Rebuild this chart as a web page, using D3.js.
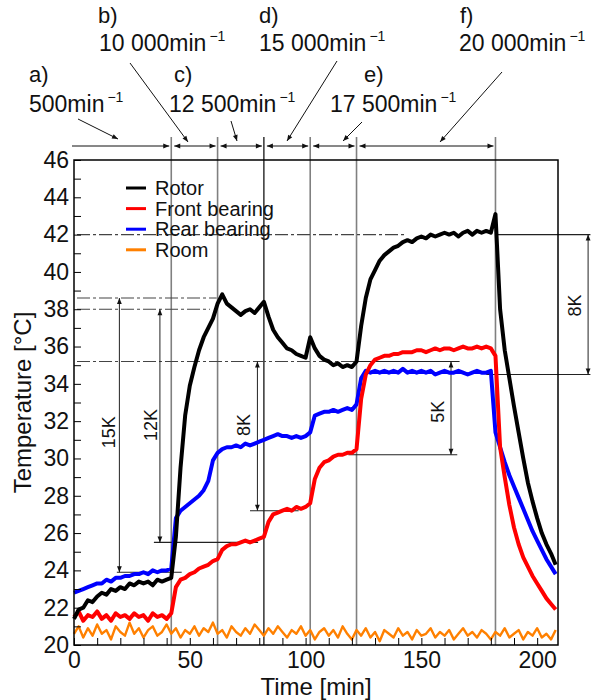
<!DOCTYPE html>
<html>
<head>
<meta charset="utf-8">
<script src="https://cdn.jsdelivr.net/npm/d3@7"></script>
<style>
  body { margin: 0; background: #fff; }
  text { font-family: "Liberation Sans", Arial, sans-serif; fill: #111; }
</style>
</head>
<body>
<div id="container"></div>
<script>
/* DATA */
// time in minutes, every 2 min
const time = [
  0, 2, 4, 6, 8, 10, 12, 14, 16, 18,
  20, 22, 24, 26, 28, 30, 32, 34, 36, 38,
  40, 42, 44, 46, 48, 50, 52, 54, 56, 58,
  60, 62, 64, 66, 68, 70, 72, 74, 76, 78,
  80, 82, 84, 86, 88, 90, 92, 94, 96, 98,
  100, 102, 104, 106, 108, 110, 112, 114, 116, 118,
  120, 122, 124, 126, 128, 130, 132, 134, 136, 138,
  140, 142, 144, 146, 148, 150, 152, 154, 156, 158,
  160, 162, 164, 166, 168, 170, 172, 174, 176, 178,
  180, 182, 184, 186, 188, 190, 192, 194, 196, 198,
  200, 202, 204, 206, 208
];
const rotor = [
  21.4, 21.9, 22.0, 22.4, 22.3, 22.6, 22.8, 22.7, 23.0, 22.9,
  23.1, 23.0, 23.3, 23.2, 23.4, 23.3, 23.4, 23.2, 23.5, 23.4,
  23.5, 23.6, 25.8, 29.5, 32.3, 33.9, 34.9, 35.8, 36.5, 37.0,
  37.5, 38.3, 38.8, 38.3, 38.1, 37.9, 37.7, 37.9, 38.0, 37.8,
  38.1, 38.4, 37.6, 36.9, 36.5, 36.2, 35.9, 35.8, 35.6, 35.5,
  35.4, 36.5, 35.9, 35.5, 35.3, 35.2, 35.0, 35.1, 34.9, 35.0,
  34.9, 35.2, 37.1, 38.6, 39.6, 40.1, 40.6, 40.9, 41.1, 41.3,
  41.4, 41.6, 41.7, 41.6, 41.8, 41.9, 41.8, 42.0, 41.9, 42.0,
  42.1, 42.0, 42.1, 41.9, 42.1, 42.2, 42.0, 42.2, 42.1, 42.2,
  42.1, 43.1, 38.0, 35.8, 34.3, 32.8, 31.4, 30.0, 28.7, 27.7,
  26.8, 26.0, 25.4, 24.9, 24.3
];
const frontBearing = [
  21.5, 21.8, 21.3, 21.6, 21.5, 21.8, 21.4, 21.6, 21.3, 21.7,
  21.5, 21.6, 21.4, 21.7, 21.5, 21.6, 21.3, 21.7, 21.5, 21.6,
  21.4, 21.7, 23.1, 23.5, 23.6, 23.8, 23.9, 24.1, 24.2, 24.3,
  24.5, 24.6, 25.1, 25.3, 25.4, 25.4, 25.5, 25.6, 25.5, 25.6,
  25.7, 25.8, 26.6, 27.0, 27.1, 27.2, 27.3, 27.2, 27.4, 27.3,
  27.4, 27.6, 28.9, 29.5, 29.8, 29.9, 30.1, 30.2, 30.2, 30.3,
  30.3, 30.5, 33.2, 34.5, 35.0, 35.3, 35.4, 35.5, 35.5, 35.6,
  35.6, 35.7, 35.7, 35.7, 35.8, 35.8, 35.7, 35.8, 35.9, 35.8,
  35.9, 35.9, 35.8, 35.9, 36.0, 35.9, 35.9, 36.0, 35.9, 36.0,
  35.9, 35.5, 30.6, 29.0, 27.5, 26.3, 25.4, 24.7, 24.2, 23.7,
  23.3, 22.9, 22.5, 22.2, 21.9
];
const rearBearing = [
  22.8, 22.9, 23.0, 23.1, 23.2, 23.3, 23.3, 23.5, 23.4, 23.6,
  23.6, 23.7, 23.7, 23.8, 23.8, 23.9, 23.8, 24.0, 23.9, 24.0,
  24.0, 24.1, 26.8, 27.2, 27.4, 27.6, 27.8, 28.0, 28.3, 28.8,
  29.9, 30.3, 30.5, 30.6, 30.6, 30.7, 30.6, 30.8, 30.7, 30.8,
  30.9, 31.0, 31.1, 31.2, 31.3, 31.2, 31.2, 31.1, 31.2, 31.1,
  31.2, 31.4, 32.3, 32.4, 32.5, 32.5, 32.6, 32.5, 32.6, 32.7,
  32.6, 32.9, 34.3, 34.7, 34.6, 34.7, 34.6, 34.7, 34.6, 34.7,
  34.6, 34.8, 34.6, 34.7, 34.6, 34.7, 34.6, 34.7, 34.5, 34.6,
  34.7, 34.6, 34.6, 34.7, 34.6, 34.5, 34.6, 34.7, 34.6, 34.6,
  34.7, 31.4, 30.6, 29.8, 29.1, 28.5, 27.9, 27.3, 26.7, 26.1,
  25.6, 25.1, 24.6, 24.2, 23.8
];
const room = [
  20.6, 21.0, 20.4, 20.9, 20.5, 21.1, 20.6, 20.8, 20.3, 21.0,
  20.7, 20.5, 21.2, 20.6, 20.9, 20.4, 20.8, 21.0, 20.5, 20.7,
  21.1, 20.6, 20.9, 20.4, 20.8, 20.6, 21.0, 20.5, 20.9, 20.7,
  21.2, 20.6, 20.8, 20.4, 21.0, 20.7, 20.5, 20.9, 20.6, 21.1,
  20.8, 20.5, 20.9, 20.6, 21.0, 20.7, 20.4, 20.8, 20.6, 21.0,
  20.5, 20.8, 20.3, 20.7, 20.9, 20.5, 20.8, 20.4, 21.0, 20.6,
  20.3, 20.8, 20.5, 20.9, 20.4, 20.7, 20.2, 20.8, 20.6, 20.4,
  20.9, 20.5, 20.7, 20.3, 20.8, 20.5, 20.6, 20.9, 20.4, 20.7,
  20.5, 20.8, 20.3, 20.6, 20.9, 20.5, 20.7, 20.4, 20.8, 20.6,
  20.3, 20.7, 20.5, 20.9, 20.4, 20.6, 20.8, 20.3, 20.7, 20.5,
  20.9, 20.4, 20.6, 20.3, 20.8
];
const seriesNames = ["Rotor", "Front bearing", "Rear bearing", "Room"];

// speed steps: boundaries (min), letters, speeds
const stepBounds = [0, 42, 62, 82, 102, 122, 182];
const stepLetters = ["a)", "b)", "c)", "d)", "e)", "f)"];
const stepSpeeds = ["500", "10 000", "12 500", "15 000", "17 500", "20 000"];

// tick labels
const xTickLabels = [0, 50, 100, 150, 200];
const yTickLabels = [20, 22, 24, 26, 28, 30, 32, 34, 36, 38, 40, 42, 44, 46];

// reference temperatures (dash-dot guides) and temperature differences
const guideTemps = [42, 38.6, 38.0, 35.2];
const guideEnds = [143, 61.6, 58.7, 122];
const deltaLabels = ["15K", "12K", "8K", "5K", "8K"];
const deltaTimes = [19.6, 37.1, 79.2, 162.8, 222];
const deltaTop = [38.6, 38.0, 35.2, 35.2, 42];
const deltaBottom = [23.9, 25.5, 27.2, 30.2, 34.5];
const deltaLabelTimes = [17.7, 35.8, 76.0, 159.8, 218.9];
const deltaLabelTemps = [31.4, 31.8, 31.8, 32.5, 38.2];

/* SCALES */
const width = 592, height = 700;
const x = d3.scaleLinear().domain([0, 209]).range([74, 558]);
const y = d3.scaleLinear().domain([20, 46]).range([645, 160]);

const svg = d3.select("#container").append("svg")
  .attr("width", width)
  .attr("height", height);

const defs = svg.append("defs");
defs.append("marker")
  .attr("id", "arr")
  .attr("viewBox", "0 0 10 10")
  .attr("refX", 10).attr("refY", 5)
  .attr("markerWidth", 8).attr("markerHeight", 6)
  .attr("markerUnits", "userSpaceOnUse")
  .attr("orient", "auto-start-reverse")
  .append("path").attr("d", "M0,1 L10,5 L0,9 Z").attr("fill", "#111");

/* GUIDES (behind the curves) */
const guides = svg.append("g");

// step boundaries
guides.selectAll("line.bound")
  .data(stepBounds.slice(1))
  .join("line")
  .attr("class", "bound")
  .attr("x1", d => x(d)).attr("x2", d => x(d))
  .attr("y1", y(46) - 23).attr("y2", y(20))
  .attr("stroke", d => d === 82 ? "#000" : "#808080")
  .attr("stroke-width", d => d === 82 ? 1.2 : 1.6);

// dash-dot reference levels
guides.selectAll("line.guide")
  .data(guideTemps)
  .join("line")
  .attr("class", "guide")
  .attr("x1", x(1.3)).attr("x2", (d, i) => x(guideEnds[i]))
  .attr("y1", d => y(d)).attr("y2", d => y(d))
  .attr("stroke", "#444").attr("stroke-width", 1.1)
  .attr("stroke-dasharray", "13,3,3,3");

// solid reference ticks for the differences
const solidRefs = [
  [42, 182, 223], [34.5, 178, 223], [35.2, 122, 166.5], [30.2, 118.5, 165.5],
  [27.2, 76, 97], [25.5, 34.5, 79.5], [23.9, 18.5, 46.5]
];
guides.selectAll("line.ref")
  .data(solidRefs)
  .join("line")
  .attr("class", "ref")
  .attr("x1", d => x(d[1])).attr("x2", d => x(d[2]))
  .attr("y1", d => y(d[0])).attr("y2", d => y(d[0]))
  .attr("stroke", "#222").attr("stroke-width", 1.1);

// difference arrows
guides.selectAll("line.delta")
  .data(deltaLabels)
  .join("line")
  .attr("class", "delta")
  .attr("x1", (d, i) => x(deltaTimes[i])).attr("x2", (d, i) => x(deltaTimes[i]))
  .attr("y1", (d, i) => y(deltaTop[i])).attr("y2", (d, i) => y(deltaBottom[i]))
  .attr("stroke", "#222").attr("stroke-width", 1)
  .attr("marker-start", "url(#arr)").attr("marker-end", "url(#arr)");

guides.selectAll("text.delta")
  .data(deltaLabels)
  .join("text")
  .attr("class", "delta")
  .attr("transform", (d, i) =>
    `translate(${x(deltaLabelTimes[i])},${y(deltaLabelTemps[i])}) rotate(-90)`)
  .attr("text-anchor", "middle")
  .attr("font-size", 18)
  .text(d => d);

/* CURVES */
const line = d3.line()
  .x((d, i) => x(time[i]))
  .y(d => y(d));

const series = [
  { values: room, color: "#ff8000", w: 2.4 },
  { values: rearBearing, color: "#0000ff", w: 4 },
  { values: frontBearing, color: "#ff0000", w: 4 },
  { values: rotor, color: "#000000", w: 4 }
];
svg.append("g").selectAll("path")
  .data(series)
  .join("path")
  .attr("d", d => line(d.values))
  .attr("fill", "none")
  .attr("stroke", d => d.color)
  .attr("stroke-width", d => d.w)
  .attr("stroke-linejoin", "round");

/* FRAME AND AXES */
svg.append("rect")
  .attr("x", x(0)).attr("y", y(46))
  .attr("width", x(209) - x(0)).attr("height", y(20) - y(46))
  .attr("fill", "none").attr("stroke", "#000").attr("stroke-width", 1.5);

const yAxis = d3.axisLeft(y)
  .tickValues(d3.range(20, 47, 1))
  .tickSize(-7).tickSizeOuter(0).tickPadding(5)
  .tickFormat(d => yTickLabels.includes(d) ? d : "");
svg.append("g").attr("transform", `translate(${x(0)},0)`)
  .call(yAxis)
  .call(g => g.select(".domain").remove())
  .call(g => g.selectAll("text").attr("font-size", 23).attr("fill", "#111"));

const xAxis = d3.axisBottom(x)
  .tickValues(d3.range(0, 210, 10))
  .tickSize(-7).tickSizeOuter(0).tickPadding(7)
  .tickFormat(d => xTickLabels.includes(d) ? d : "");
svg.append("g").attr("transform", `translate(0,${y(20)})`)
  .call(xAxis)
  .call(g => g.select(".domain").remove())
  .call(g => g.selectAll("text").attr("font-size", 23).attr("fill", "#111"));

svg.append("text")
  .attr("x", (x(0) + x(209)) / 2).attr("y", 695)
  .attr("text-anchor", "middle").attr("font-size", 24)
  .text("Time [min]");
svg.append("text")
  .attr("transform", `translate(31,${(y(20) + y(46)) / 2}) rotate(-90)`)
  .attr("text-anchor", "middle").attr("font-size", 24)
  .text("Temperature [°C]");

/* LEGEND */
const legendColors = ["#000000", "#ff0000", "#0000ff", "#ff8000"];
const legend = svg.append("g").attr("transform", "translate(126,188)");
const rows = legend.selectAll("g").data(seriesNames).join("g")
  .attr("transform", (d, i) => `translate(0,${i * 20.6})`);
rows.append("line")
  .attr("x1", 0).attr("x2", 20)
  .attr("stroke", (d, i) => legendColors[i]).attr("stroke-width", 3);
rows.append("text")
  .attr("x", 29).attr("y", 7)
  .attr("font-size", 20)
  .text(d => d);

/* SPEED STEPS HEADER */
const topY = y(46) - 14;
svg.selectAll("line.step")
  .data(stepLetters)
  .join("line")
  .attr("class", "step")
  .attr("x1", (d, i) => i === 0 ? x(0) - 2 : x(stepBounds[i]) + 3)
  .attr("x2", (d, i) => x(stepBounds[i + 1]) - 2)
  .attr("y1", topY).attr("y2", topY)
  .attr("stroke", "#111").attr("stroke-width", 1)
  .attr("marker-start", (d, i) => i === 0 ? null : "url(#arr)")
  .attr("marker-end", "url(#arr)");

const headerLayout = [
  { lx: 29, ly: 82, sx: 29, sy: 112, p: [78, 119, 118, 139] },
  { lx: 98, ly: 23, sx: 99, sy: 51, p: [130, 63, 188, 142] },
  { lx: 174, ly: 82, sx: 169, sy: 112, p: [231, 121, 237, 141] },
  { lx: 259, ly: 23, sx: 259, sy: 51, p: [337, 61, 287, 141] },
  { lx: 364, ly: 82, sx: 330, sy: 112, p: [362, 122, 343, 141] },
  { lx: 460, ly: 23, sx: 459, sy: 51, p: [502, 72, 440, 142] }
];
const header = svg.append("g");
stepLetters.forEach((letter, i) => {
  const h = headerLayout[i];
  header.append("text").attr("x", h.lx).attr("y", h.ly)
    .attr("font-size", 22).text(letter);
  const t = header.append("text").attr("x", h.sx).attr("y", h.sy)
    .attr("font-size", 23);
  t.append("tspan").text(stepSpeeds[i] + "min");
  t.append("tspan").attr("dx", 3).attr("dy", -10).attr("font-size", 14).text("\u22121");
  header.append("line")
    .attr("x1", h.p[0]).attr("y1", h.p[1]).attr("x2", h.p[2]).attr("y2", h.p[3])
    .attr("stroke", "#111").attr("stroke-width", 1)
    .attr("marker-end", "url(#arr)");
});
</script>
</body>
</html>
